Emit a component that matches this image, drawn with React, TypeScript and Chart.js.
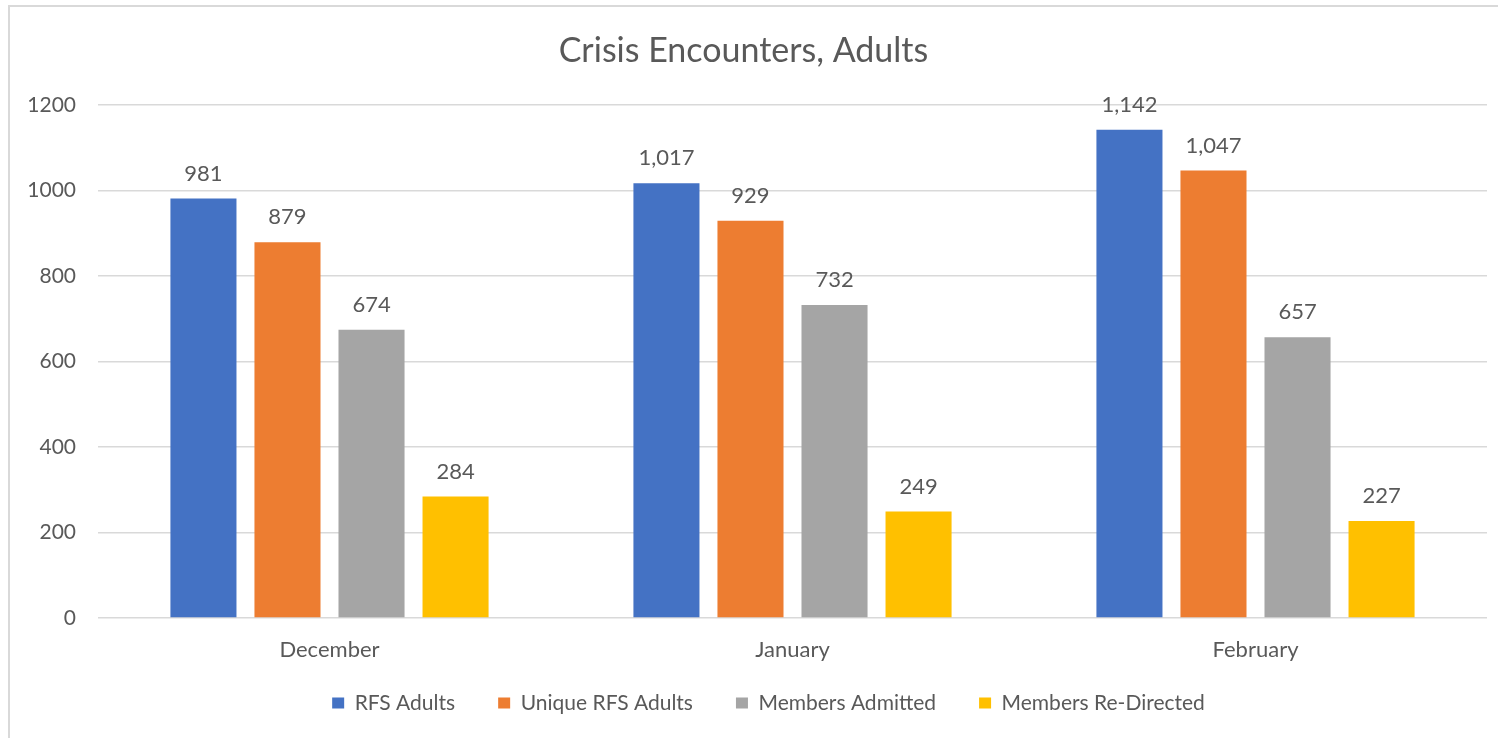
import React, { useEffect, useRef } from "react";
import { Chart, registerables } from "chart.js";

Chart.register(...registerables);

const categories = ["December", "January", "February"];
const seriesNames = ["RFS Adults", "Unique RFS Adults", "Members Admitted", "Members Re-Directed"];
const rfsAdults = [981, 1017, 1142];
const uniqueRfsAdults = [879, 929, 1047];
const membersAdmitted = [674, 732, 657];
const membersRedirected = [284, 249, 227];
const seriesColors = ["#4472C4", "#ED7D31", "#A5A5A5", "#FFC000"];
const yTicks = [0, 200, 400, 600, 800, 1000, 1200];

const FONT = "Lato, 'Open Sans', sans-serif";
const TEXT = "#595959";

const dataLabelPlugin = {
  id: "dataLabels",
  afterDatasetsDraw(chart: any) {
    const ctx = chart.ctx;
    ctx.save();
    ctx.font = `22px ${FONT}`;
    ctx.fillStyle = TEXT;
    ctx.textAlign = "center";
    ctx.textBaseline = "middle";
    chart.data.datasets.forEach((ds: any, i: number) => {
      const meta = chart.getDatasetMeta(i);
      meta.data.forEach((bar: any, j: number) => {
        const v = ds.data[j] as number;
        ctx.fillText(v.toLocaleString("en-US"), bar.x, bar.y - 25);
      });
    });
    ctx.restore();
  },
};

// shift the legend so that wide horizontal item spacing does not push it down
const legendShiftPlugin = {
  id: "legendShift",
  afterLayout(chart: any) {
    const lg = chart.legend;
    if (lg) {
      lg.top -= 18.5;
      lg.bottom -= 18.5;
      lg.left += 25;
      lg.right += 25;
    }
  },
};

export default function App() {
  const ref = useRef<HTMLCanvasElement | null>(null);
  useEffect(() => {
    if (!ref.current) return;
    const allSeries = [rfsAdults, uniqueRfsAdults, membersAdmitted, membersRedirected];
    const chart = new Chart(ref.current, {
      type: "bar",
      data: {
        labels: categories,
        datasets: allSeries.map((d, i) => ({
          label: seriesNames[i],
          data: d,
          backgroundColor: seriesColors[i],
          borderWidth: 0,
          categoryPercentage: 0.726,
          barPercentage: 0.786,
        })),
      },
      options: {
        animation: false,
        responsive: false,
        maintainAspectRatio: false,
        layout: { padding: { left: 0, right: 11, top: 0, bottom: 0 } },
        plugins: {
          title: {
            display: true,
            text: "Crisis Encounters, Adults",
            color: TEXT,
            font: { family: FONT, size: 34, weight: "normal" as any },
            padding: { top: 30.6, bottom: 33.6 },
          },
          legend: {
            position: "bottom",
            maxHeight: 70,
            labels: {
              color: TEXT,
              font: { family: FONT, size: 21 },
              boxWidth: 12,
              boxHeight: 11,
              padding: 43,
            },
          },
          tooltip: { enabled: false },
        },
        scales: {
          x: {
            grid: { display: false, drawTicks: false },
            border: { display: false },
            ticks: { color: TEXT, font: { family: FONT, size: 22 }, padding: 19 },
            afterFit: (s: any) => {
              s.height = 50;
            },
          },
          y: {
            min: 0,
            max: 1200,
            afterBuildTicks: (s: any) => {
              s.ticks = yTicks.map((v) => ({ value: v }));
            },
            grid: { color: "#D9D9D9", lineWidth: 1.5, drawTicks: false },
            border: { display: false },
            ticks: {
              color: TEXT,
              font: { family: FONT, size: 21 },
              padding: 22,
              callback: (v: any) => String(v),
            },
            afterFit: (s: any) => {
              s.width = 98;
            },
          },
        },
      },
      plugins: [dataLabelPlugin, legendShiftPlugin],
    });
    return () => chart.destroy();
  }, []);

  return (
    <div style={{ position: "fixed", left: 0, top: 0, width: 1498, height: 738, background: "#fff", overflow: "hidden" }}>
      <div
        style={{
          position: "absolute",
          left: 8,
          top: 5,
          width: 1600,
          height: 800,
          borderTop: "2px solid #D9D9D9",
          borderLeft: "2px solid #D9D9D9",
        }}
      />
      <canvas ref={ref} width={1498} height={738} style={{ position: "absolute", left: 0, top: 0 }} />
    </div>
  );
}
